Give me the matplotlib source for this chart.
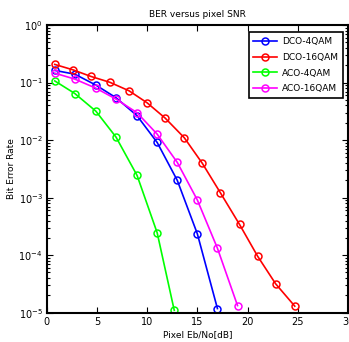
import matplotlib
matplotlib.use("Agg")
import matplotlib.pyplot as plt
from matplotlib.ticker import LogLocator, FixedLocator

# data
x_dco16 = [0.8, 2.6, 4.4, 6.3, 8.2, 10.0, 11.8, 13.7, 15.5, 17.3, 19.2, 21.0, 22.8, 24.7]
ber_dco16 = [0.207, 0.167, 0.128, 0.101, 0.072, 0.0445, 0.0241, 0.011, 0.00394,
             0.00121, 3.42e-4, 9.6e-5, 3.17e-5, 1.30e-5]

x_dco4 = [0.8, 2.8, 4.9, 6.9, 9.0, 11.0, 13.0, 15.0, 17.0]
ber_dco4 = [0.163, 0.14, 0.0905, 0.0546, 0.0265, 0.0091, 0.0020, 2.35e-4, 1.18e-5]

x_aco4 = [0.8, 2.8, 4.9, 6.9, 9.0, 11.0, 12.7]
ber_aco4 = [0.107, 0.0646, 0.0318, 0.0113, 0.00243, 2.45e-4, 1.1e-5]

x_aco16 = [0.8, 2.8, 4.9, 6.9, 9.0, 11.0, 13.0, 15.0, 17.0, 19.0]
ber_aco16 = [0.146, 0.115, 0.080, 0.0517, 0.0299, 0.0127, 0.0041, 9.1e-4, 1.32e-4, 1.33e-5]

x_ticks = [0, 5, 10, 15, 20, 25, 30]

fig = plt.figure(figsize=(3.49, 3.42), dpi=100)
ax = fig.add_axes([0.1338, 0.0857, 0.8633, 0.841])

style = dict(marker="o", markerfacecolor="none", markersize=5,
             markeredgewidth=1.1, linewidth=1.2)
ax.semilogy(x_dco4, ber_dco4, color="#0000ff", label="DCO-4QAM", **style)
ax.semilogy(x_dco16, ber_dco16, color="#ff0000", label="DCO-16QAM", **style)
ax.semilogy(x_aco4, ber_aco4, color="#00ff00", label="ACO-4QAM", **style)
ax.semilogy(x_aco16, ber_aco16, color="#ff00ff", label="ACO-16QAM", **style)

ax.set_xlim(0, 30)
ax.set_ylim(1e-5, 1)
ax.xaxis.set_major_locator(FixedLocator(x_ticks))
ax.yaxis.set_major_locator(LogLocator(base=10, numticks=10))
ax.yaxis.set_minor_locator(LogLocator(base=10, subs=range(2, 10), numticks=10))
ax.tick_params(which="both", direction="in", top=True, right=True,
               labelsize=7, width=0.8, pad=3)
ax.tick_params(which="major", length=4)
ax.tick_params(which="minor", length=2)
for s in ax.spines.values():
    s.set_linewidth(1.5)

ax.set_title("BER versus pixel SNR", fontsize=6.5, pad=6)
ax.set_xlabel("Pixel Eb/No[dB]", fontsize=6.5, labelpad=2)
ax.set_ylabel("Bit Error Rate", fontsize=6.5, labelpad=2)

leg = ax.legend(loc="upper right", fontsize=6.5, fancybox=False, framealpha=1,
                edgecolor="black", handlelength=2.6, borderpad=0.5,
                labelspacing=0.75, handletextpad=0.6,
                bbox_to_anchor=(0.997, 0.99))
leg.get_frame().set_linewidth(1.2)

fig.savefig("out.png", dpi=100)
